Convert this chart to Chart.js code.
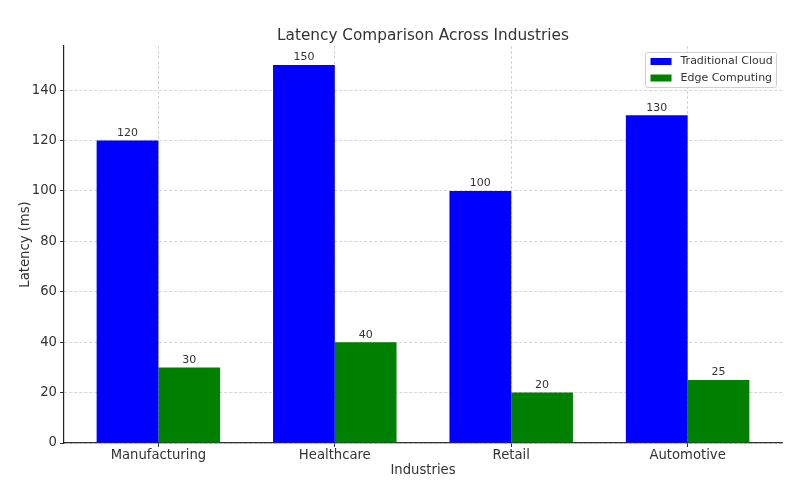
<!DOCTYPE html>
<html>
<head>
<meta charset="utf-8">
<script src="https://cdn.jsdelivr.net/npm/chart.js@4"></script>
<style>
html,body{margin:0;padding:0;background:#fff;}
#wrap{width:797px;height:482px;position:relative;}
</style>
</head>
<body>
<div id="wrap"><canvas id="c" width="797" height="482"></canvas></div>
<script>
const categories = ["Manufacturing", "Healthcare", "Retail", "Automotive"];
const traditionalCloud = [120, 150, 100, 130];
const edgeComputing = [30, 40, 20, 25];
const seriesNames = ["Traditional Cloud", "Edge Computing"];
const yTicks = [0, 20, 40, 60, 80, 100, 120, 140];
const chartTitle = "Latency Comparison Across Industries";
const xTitle = "Industries";
const yTitle = "Latency (ms)";

const FONT = "'DejaVu Sans', sans-serif";
const colors = ["#0000ff", "#008000"];

const toPoints = arr => arr.map((v, i) => ({x: i, y: v}));

const labelPlugin = {
  id: 'barLabels',
  afterDatasetsDraw(chart) {
    const ctx = chart.ctx;
    ctx.save();
    ctx.font = "11px " + FONT;
    ctx.fillStyle = "#333";
    ctx.textAlign = "center";
    ctx.textBaseline = "bottom";
    chart.data.datasets.forEach((ds, di) => {
      const meta = chart.getDatasetMeta(di);
      meta.data.forEach((bar, i) => {
        ctx.fillText(String(ds.data[i].y), bar.x, bar.y - 2);
      });
    });
    ctx.restore();
  }
};

const titleLegendPlugin = {
  id: 'titleLegend',
  afterDraw(chart) {
    const ctx = chart.ctx;
    const a = chart.chartArea;
    ctx.save();
    ctx.font = "15.3px " + FONT;
    ctx.fillStyle = "#333";
    ctx.textAlign = "center";
    ctx.textBaseline = "alphabetic";
    ctx.fillText(chartTitle, (a.left + a.right) / 2, 40);
    // legend
    const bx = 645.5, by = 52.5, bw = 131, bh = 35;
    ctx.fillStyle = "rgba(255,255,255,0.8)";
    ctx.strokeStyle = "#d0d0d0";
    ctx.lineWidth = 1;
    ctx.beginPath();
    if (ctx.roundRect) ctx.roundRect(bx, by, bw, bh, 2); else ctx.rect(bx, by, bw, bh);
    ctx.fill();
    ctx.stroke();
    ctx.font = "11px " + FONT;
    ctx.textAlign = "left";
    ctx.textBaseline = "middle";
    seriesNames.forEach((n, i) => {
      const yy = by + 9 + i * 16.5;
      ctx.fillStyle = colors[i];
      ctx.fillRect(bx + 5, yy - 3.5, 21, 7);
      ctx.fillStyle = "#333";
      ctx.fillText(n, bx + 35, yy);
    });
    ctx.restore();
  }
};

new Chart(document.getElementById('c'), {
  type: 'bar',
  data: {
    datasets: [
      {label: seriesNames[0], data: toPoints(traditionalCloud), backgroundColor: colors[0], categoryPercentage: 0.7, barPercentage: 1.0},
      {label: seriesNames[1], data: toPoints(edgeComputing), backgroundColor: colors[1], categoryPercentage: 0.7, barPercentage: 1.0}
    ]
  },
  plugins: [labelPlugin, titleLegendPlugin],
  options: {
    responsive: false,
    animation: false,
    devicePixelRatio: 1,
    layout: {padding: {top: 46, right: 15, left: 0, bottom: 0}},
    plugins: {legend: {display: false}, title: {display: false}, tooltip: {enabled: false}},
    scales: {
      x: {
        type: 'linear',
        min: -0.535, max: 3.535,
        offset: false,
        z: 1,
        afterBuildTicks(scale) { scale.ticks = categories.map((c, i) => ({value: i})); },
        afterFit(scale) { scale.height = 39; },
        ticks: {
          callback: (v) => categories[v] ?? '',
          font: {family: FONT, size: 13.2},
          color: '#333',
          padding: 1,
          maxRotation: 0,
          autoSkip: false
        },
        grid: {offset: false, color: 'rgba(180,180,180,0.7)', lineWidth: 0.8, drawTicks: true, tickLength: 4, tickColor: '#333', tickWidth: 1},
        border: {display: true, color: '#333', width: 1.2, dash: [3, 2]},
        title: {display: true, text: xTitle, font: {family: FONT, size: 13.2}, color: '#333', padding: {top: 0, bottom: 4}}
      },
      y: {
        min: 0, max: 157.5,
        z: 1,
        afterBuildTicks(scale) { scale.ticks = yTicks.map(v => ({value: v})); },
        afterFit(scale) { scale.width = 64; },
        ticks: {
          font: {family: FONT, size: 13.2},
          color: '#333',
          padding: 3
        },
        grid: {offset: false, color: 'rgba(180,180,180,0.7)', lineWidth: 0.8, drawTicks: true, tickLength: 4, tickColor: '#333', tickWidth: 1},
        border: {display: true, color: '#222', width: 1.2, dash: [3, 2]},
        title: {display: true, text: yTitle, font: {family: FONT, size: 13.2}, color: '#333', padding: {top: 18, bottom: 4}}
      }
    }
  }
});
</script>
</body>
</html>
